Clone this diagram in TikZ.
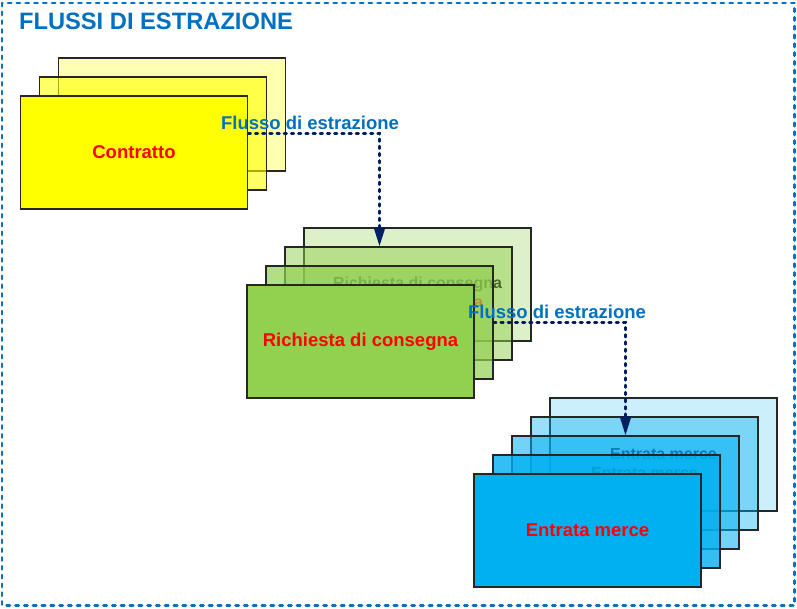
\documentclass[tikz,border=0pt]{standalone}
\usepackage{fontspec}
\setmainfont{Liberation Sans}
\usetikzlibrary{arrows.meta}

\definecolor{titleblue}{RGB}{0,112,192}
\definecolor{flownavy}{RGB}{0,32,96}
\definecolor{cardyellow}{RGB}{255,255,0}
\definecolor{cardgreen}{RGB}{146,208,80}
\definecolor{cardblue}{RGB}{0,176,240}
\definecolor{cardred}{RGB}{255,0,0}

\tikzset{
  card/.style={draw=black!85, line width=1.2pt, minimum width=227pt, minimum height=113pt,
    inner sep=0pt, text=cardred, text opacity=1, font=\fontsize{18.5}{20}\selectfont\bfseries},
  ghost/.style={card, font=\fontsize{16}{18}\selectfont\bfseries},
  flow/.style={flownavy, line width=2.7pt, line cap=round, dash pattern=on 2.5pt off 4.7pt,
    -{Triangle[width=11pt,length=19pt]}},
  flowlabel/.style={text=titleblue, inner sep=0pt, font=\fontsize{18.5}{20}\selectfont\bfseries}
}

\begin{document}
\begin{tikzpicture}[x=1pt, y=-1pt]
    % Canvas and dotted frame
    \path[fill=white] (0,0) rectangle (797,608);
    \draw[titleblue, line width=2.8pt, line cap=round, dash pattern=on 3.2pt off 5.6pt] (2,3) rectangle (794.5,605.5);
    \node[text=titleblue, inner sep=0pt, font=\fontsize{23.7}{26}\selectfont\bfseries] (title) at (156,21.3) {FLUSSI DI ESTRAZIONE};

    % Contratto stack
    \node[card, fill=cardyellow, fill opacity=0.3] (con3) at (172,114.5) {};
    \node[card, fill=cardyellow, fill opacity=0.6] (con2) at (153,133.5) {};
    \node[card, fill=cardyellow] (con1) at (134,152.5) {Contratto};

    % Richiesta di consegna stack
    \node[ghost, fill=cardgreen, fill opacity=0.3, text=black] (ric4) at (417.5,284.5) {Richiesta di consegna};
    \node[ghost, fill=cardgreen, fill opacity=0.5] (ric3) at (398.5,303.5) {Richiesta di consegna};
    \node[card, fill=cardgreen, fill opacity=0.7] (ric2) at (379.5,322.5) {};
    \node[card, fill=cardgreen] (ric1) at (360.5,341.5) {Richiesta di consegna};

    % Entrata merce stack
    \node[ghost, fill=cardblue, fill opacity=0.2, text=black] (ent5) at (663.5,454.5) {Entrata merce};
    \node[ghost, fill=cardblue, fill opacity=0.4, text=black] (ent4) at (644.5,473.5) {Entrata merce};
    \node[card, fill=cardblue, fill opacity=0.55] (ent3) at (625.5,492.5) {};
    \node[card, fill=cardblue, fill opacity=0.8] (ent2) at (606.5,511.5) {};
    \node[card, fill=cardblue] (ent1) at (587.5,530.5) {Entrata merce};

    % Extraction flows
    \draw[flow] (con1.east |- con2.center) -| (ric2.center |- ric3.north);
    \node[flowlabel] (lab1) at (310,122.5) {Flusso di estrazione};
    \draw[flow] (ric2.east) -| (ent3.north);
    \node[flowlabel] (lab2) at (557,312) {Flusso di estrazione};
\end{tikzpicture}
\end{document}
